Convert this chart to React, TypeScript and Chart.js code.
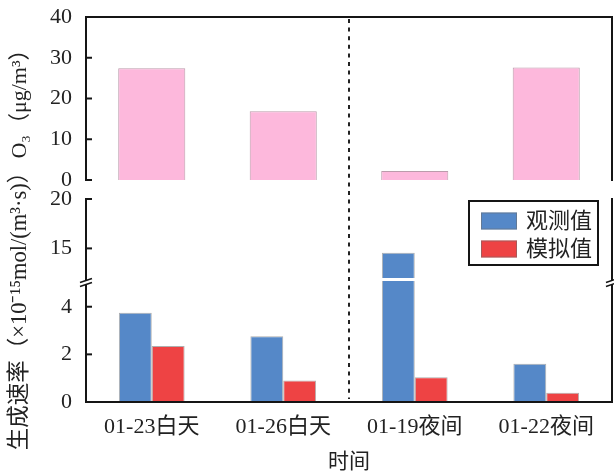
import React, { useEffect, useRef } from 'react';
import { Chart, registerables } from 'chart.js';

Chart.register(...registerables);

// ---------------- data ----------------
const categories = ['01-23白天', '01-26白天', '01-19夜间', '01-22夜间'];
const o3Values = [27.4, 16.9, 2.2, 27.6];
const observedRates = [3.75, 2.76, 14.55, 1.61];
const simulatedRates = [2.35, 0.9, 1.04, 0.39];
const o3Ticks = [0, 10, 20, 30, 40];
const upperTicks = [15, 20];
const lowerTicks = [0, 2, 4];
const seriesLabels = ['观测值', '模拟值'];
const xTitle = '时间';
const o3Title = 'O₃（μg/m³）';
const rateTitle = '生成速率（×10⁻¹⁵mol/(m³·s)）';
// broken axis: lower segment 0..LOWER_MAX, upper segment UPPER_MIN..20
const LOWER_MAX = 5.08;
const UPPER_MIN = 11.7;
const UPPER_BASE = 12;

// ---------------- styles ----------------
const FONT = "'Liberation Serif', 'Times New Roman', 'Noto Sans CJK SC', serif";
const TXT = '#222222';
const PINK = '#FDB8DC';
const BLUE = '#5588C8';
const RED = '#EE4344';
const EDGE = 'rgba(110,110,110,0.55)';

const clipPlugin = {
  id: 'clipToOwnAxis',
  beforeDatasetDraw(chart: any, args: any) {
    const ys = chart.scales[args.meta.yAxisID];
    const ca = chart.chartArea;
    const ctx = chart.ctx;
    ctx.save();
    ctx.beginPath();
    ctx.rect(ca.left, ys.top, ca.right - ca.left, ys.bottom - ys.top);
    ctx.clip();
  },
  afterDatasetDraw(chart: any) {
    chart.ctx.restore();
  },
};

const framePlugin = {
  id: 'frameAxes',
  afterDatasetsDraw(chart: any) {
    const { ctx, chartArea: ca, scales } = chart;
    const { x, yO3, yUp, yLow } = scales;
    const L = ca.left;
    const R = ca.right;
    const line = (x1: number, y1: number, x2: number, y2: number) => {
      ctx.beginPath();
      ctx.moveTo(x1, y1);
      ctx.lineTo(x2, y2);
      ctx.stroke();
    };
    ctx.save();
    ctx.strokeStyle = '#151515';
    ctx.lineWidth = 2;
    ctx.lineCap = 'butt';
    // top panel
    const topY = yO3.getPixelForValue(o3Ticks[o3Ticks.length - 1]);
    const zeroY = yO3.getPixelForValue(0);
    line(L, zeroY + 1, L, topY - 1);
    line(L - 1, topY, R + 1, topY);
    line(R, topY - 1, R, zeroY + 1);
    o3Ticks.forEach((v) => {
      const y = yO3.getPixelForValue(v);
      line(L, y, L + 6, y);
    });
    // bottom panel
    const upTop = yUp.getPixelForValue(upperTicks[upperTicks.length - 1]);
    const lowBottom = yLow.getPixelForValue(0);
    line(L, upTop - 1, L, lowBottom);
    line(R, upTop - 1, R, lowBottom);
    line(L - 1, lowBottom, R + 1, lowBottom);
    upperTicks.forEach((v) => {
      const y = yUp.getPixelForValue(v);
      line(L, y, L + 6, y);
    });
    lowerTicks.forEach((v) => {
      const y = yLow.getPixelForValue(v);
      line(L, y, L + 6, y);
    });
    // break marks
    const yb = yLow.top;
    [L, R].forEach((ax) => {
      ctx.fillStyle = '#ffffff';
      ctx.beginPath();
      ctx.moveTo(ax - 2, yb + 0);
      ctx.lineTo(ax + 2, yb - 1.5);
      ctx.lineTo(ax + 2, yb + 2.5);
      ctx.lineTo(ax - 2, yb + 4);
      ctx.closePath();
      ctx.fill();
      ctx.lineWidth = 1.5;
      line(ax - 6, yb + 1.5, ax + 6, yb - 2.5);
      line(ax - 6, yb + 5.5, ax + 6, yb + 1.5);
      ctx.lineWidth = 2;
    });
    // dashed divider between day and night
    const splitIdx = categories.findIndex((c) => c.includes('夜间')) - 0.5;
    const dx = Math.round(x.getPixelForValue(splitIdx));
    ctx.setLineDash([4, 4.6]);
    ctx.lineWidth = 2;
    ctx.strokeStyle = '#222';
    line(dx, topY + 2, dx, lowBottom - 3);
    ctx.setLineDash([]);
    ctx.restore();
  },
};

const annotPlugin = {
  id: 'titlesLegend',
  afterDraw(chart: any) {
    const { ctx, chartArea: ca, scales } = chart;
    const { yO3, yUp, yLow } = scales;
    ctx.save();
    ctx.fillStyle = TXT;
    ctx.textAlign = 'center';
    ctx.textBaseline = 'middle';
    // y titles
    ctx.font = `22px ${FONT}`;
    const o3c = (yO3.getPixelForValue(o3Ticks[o3Ticks.length - 1]) + yO3.getPixelForValue(0)) / 2;
    ctx.save();
    ctx.translate(20, o3c);
    ctx.rotate(-Math.PI / 2);
    ctx.fillText(o3Title, 0, 0);
    ctx.restore();
    ctx.font = `22.5px ${FONT}`;
    const rc = (yUp.top + yLow.bottom) / 2 + 5;
    ctx.save();
    ctx.translate(20, rc);
    ctx.rotate(-Math.PI / 2);
    ctx.fillText(rateTitle, 0, 0);
    ctx.restore();

    // legend box
    const boxR = ca.right - 14;
    const boxW = 129;
    const boxL = boxR - boxW;
    const boxT = yUp.top + 2;
    const boxH = 64;
    ctx.fillStyle = '#ffffff';
    ctx.fillRect(boxL, boxT, boxW, boxH);
    ctx.strokeStyle = '#151515';
    ctx.lineWidth = 2;
    ctx.strokeRect(boxL, boxT, boxW, boxH);
    const seen: string[] = [];
    const entries: any[] = [];
    chart.data.datasets.forEach((d: any) => {
      if (seriesLabels.includes(d.label) && !seen.includes(d.label)) {
        seen.push(d.label);
        entries.push(d);
      }
    });
    entries.forEach((d: any, i: number) => {
      const cy = boxT + 20 + i * 28;
      ctx.fillStyle = d.backgroundColor;
      ctx.fillRect(boxL + 12, cy - 8.5, 36, 17);
      ctx.strokeStyle = EDGE;
      ctx.lineWidth = 1;
      ctx.strokeRect(boxL + 12.5, cy - 8, 35, 16);
      ctx.fillStyle = TXT;
      ctx.font = `22px ${FONT}`;
      ctx.textAlign = 'left';
      ctx.fillText(d.label, boxL + 57, cy + 1);
    });
    ctx.restore();
  },
};

export default function App() {
  const ref = useRef<HTMLCanvasElement>(null);

  useEffect(() => {
    document.body.style.margin = '0';
    const tickFont = { family: FONT, size: 22 };
    const yCommon = (ticksArr: number[]) => ({
      position: 'left' as const,
      stack: 'main',
      stacked: false,
      grid: { display: false, drawTicks: false },
      border: { display: false },
      ticks: { padding: 14, font: tickFont, color: TXT, autoSkip: false },
      afterBuildTicks: (s: any) => {
        s.ticks = ticksArr.map((v) => ({ value: v }));
      },
      afterFit: (s: any) => {
        s.width = 40;
        s.paddingTop = 0;
        s.paddingBottom = 0;
      },
    });

    const chart = new Chart(ref.current as HTMLCanvasElement, {
      type: 'bar',
      data: {
        labels: categories,
        datasets: [
          {
            label: 'O3',
            data: o3Values,
            yAxisID: 'yO3',
            grouped: false,
            backgroundColor: PINK,
            borderColor: 'rgba(170,130,150,0.8)',
            borderWidth: 1,
            barPercentage: 1,
            categoryPercentage: 0.51,
          } as any,
          {
            label: seriesLabels[0],
            data: observedRates,
            yAxisID: 'yLow',
            stack: 'obs',
            backgroundColor: BLUE,
            borderColor: EDGE,
            borderWidth: 1,
            barPercentage: 1,
            categoryPercentage: 0.5,
          },
          {
            label: seriesLabels[0],
            data: observedRates.map((v) => (v > UPPER_BASE ? [UPPER_BASE, v] : null)) as any,
            yAxisID: 'yUp',
            stack: 'obs',
            backgroundColor: BLUE,
            borderColor: EDGE,
            borderWidth: 1,
            barPercentage: 1,
            categoryPercentage: 0.5,
          },
          {
            label: seriesLabels[1],
            data: simulatedRates,
            yAxisID: 'yLow',
            stack: 'sim',
            backgroundColor: RED,
            borderColor: EDGE,
            borderWidth: 1,
            barPercentage: 1,
            categoryPercentage: 0.5,
          },
          {
            label: seriesLabels[1],
            data: simulatedRates.map((v) => (v > UPPER_BASE ? [UPPER_BASE, v] : null)) as any,
            yAxisID: 'yUp',
            stack: 'sim',
            backgroundColor: RED,
            borderColor: EDGE,
            borderWidth: 1,
            barPercentage: 1,
            categoryPercentage: 0.5,
          },
        ],
      },
      options: {
        responsive: false,
        animation: false,
        devicePixelRatio: 1,
        layout: { padding: { left: 46, right: 2, top: 17, bottom: 0 } },
        plugins: {
          legend: { display: false },
          tooltip: { enabled: false },
        },
        scales: {
          x: {
            grid: { display: false, drawTicks: false },
            border: { display: false },
            ticks: { padding: 12, font: tickFont, color: TXT, maxRotation: 0, autoSkip: false },
            title: {
              display: true,
              text: xTitle,
              font: { family: FONT, size: 21, lineHeight: 1 },
              color: TXT,
              padding: { top: 0, bottom: 0 },
            },
            afterFit: (s: any) => {
              s.height = 71;
              s.paddingLeft = 0;
              s.paddingRight = 0;
            },
          },
          yLow: { ...yCommon(lowerTicks), min: 0, max: LOWER_MAX, stackWeight: 121 },
          yUp: { ...yCommon(upperTicks), min: UPPER_MIN, max: 20, stackWeight: 82 },
          yO3: { ...yCommon(o3Ticks), min: -4.66, max: 40, stackWeight: 182 },
        } as any,
      },
      plugins: [clipPlugin, framePlugin, annotPlugin],
    });
    return () => chart.destroy();
  }, []);

  return (
    <div style={{ width: 614, height: 473 }}>
      <canvas ref={ref} width={614} height={473} style={{ display: 'block', width: 614, height: 473 }} />
    </div>
  );
}
